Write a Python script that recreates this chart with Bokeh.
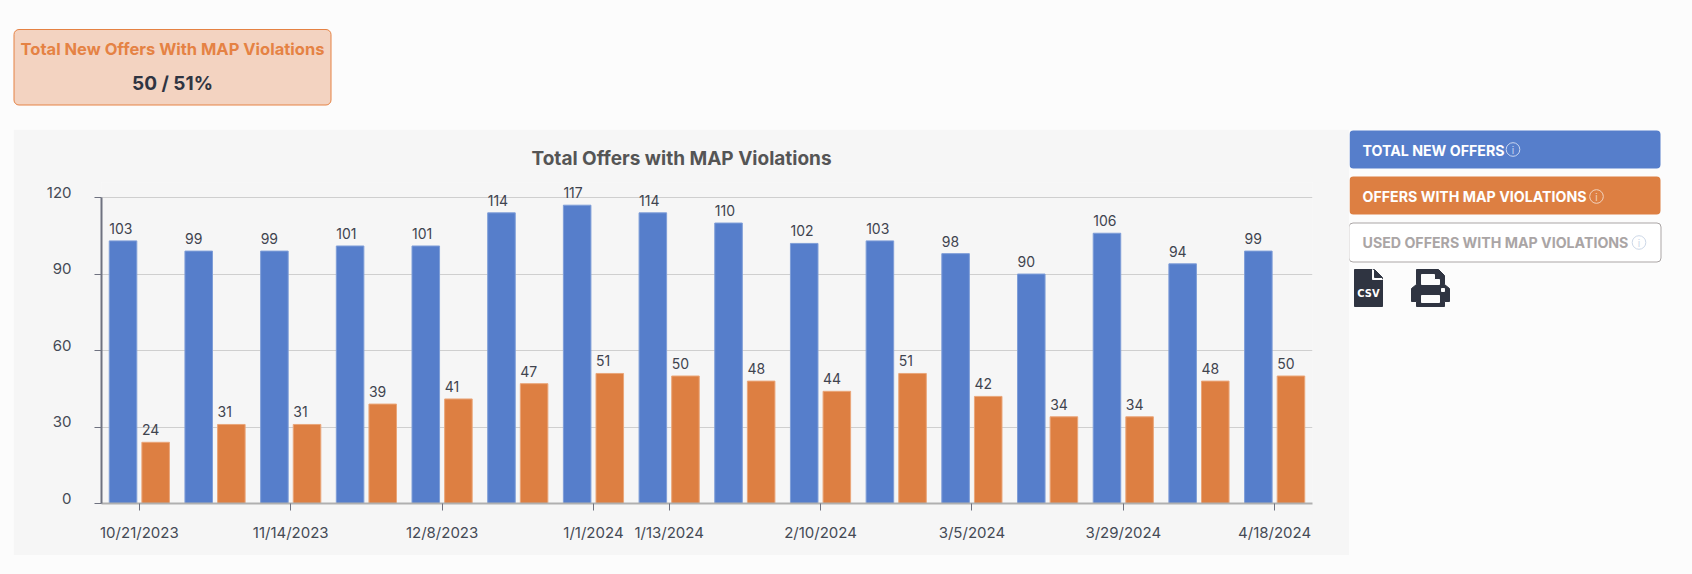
import numpy as np
from bokeh.embed import file_html
from bokeh.resources import INLINE
from bokeh.plotting import figure
from bokeh.layouts import column, row
from bokeh.models import ColumnDataSource, FixedTicker, Range1d, LinearAxis
from bokeh.core.properties import value

# ---- data ----
date_labels = ["10/21/2023", "", "11/14/2023", "", "12/8/2023", "", "1/1/2024", "1/13/2024",
               "", "2/10/2024", "", "3/5/2024", "", "3/29/2024", "", "4/18/2024"]
total_new_offers = [103, 99, 99, 101, 101, 114, 117, 114, 110, 102, 103, 98, 90, 106, 94, 99]
map_violations = [24, 31, 31, 39, 41, 47, 51, 50, 48, 44, 51, 42, 34, 34, 48, 50]
y_ticks = [0, 30, 60, 90, 120]
title_text = "Total Offers with MAP Violations"
kpi_title = "Total New Offers With MAP Violations"
kpi_value = "50 / 51%"
legend_items = ["TOTAL NEW OFFERS", "OFFERS WITH MAP VIOLATIONS", "USED OFFERS WITH MAP VIOLATIONS"]

# ---- style ----
PAGE = "#fcfcfc"
PANEL = "#f6f6f6"
BLUE = "#567ecb"
ORANGE = "#dd7f42"
DARK = "#2f3441"
FONT = "Inter"

n = len(total_new_offers)
centers = np.arange(n) + 0.5
BAR_W = 0.364
OFF = 0.2155
blue_x = centers - OFF
orange_x = centers + OFF
src = ColumnDataSource(dict(
    blue_x=blue_x, orange_x=orange_x,
    blue_lx=blue_x - BAR_W / 2, orange_lx=orange_x - BAR_W / 2,
    total=total_new_offers, viol=map_violations,
    total_s=[str(v) for v in total_new_offers], viol_s=[str(v) for v in map_violations],
))


def decor(left, top, w, h):
    """A figure whose data coordinates are the page's pixels, for cards and buttons."""
    f = figure(width=w, height=h, output_backend="svg", toolbar_location=None,
               x_range=Range1d(left, left + w), y_range=Range1d(top + h, top),
               min_border=0, min_border_left=0, min_border_right=0, min_border_top=0, min_border_bottom=0,
               x_axis_location=None, y_axis_location=None, frame_align=False)
    f.grid.visible = False
    f.outline_line_color = None
    f.background_fill_color = PAGE
    f.border_fill_color = PAGE
    return f


def text(f, x, y, s, size, color, bold=False, align="left", font=FONT):
    f.text(x=[x], y=[y], text=[s], text_font=value(font), text_font_size=f"{size}px",
           text_color=color, text_font_style="bold" if bold else "normal",
           text_align=align, text_baseline="middle")


def card(f, l, t, r, b, fill, line=None, radius=5):
    f.quad(left=[l], right=[r], top=[t], bottom=[b], fill_color=fill, line_color=line,
           border_radius=radius)


def info(f, cx, cy, color):
    f.circle(x=[cx], y=[cy], radius=6.8, fill_color=None, line_color=color, line_width=1)
    text(f, cx, cy + 0.5, "i", 10, color, align="center")


# ---- KPI strip ----
top = decor(8, 8, 1676, 121)
card(top, 13.5, 29, 330.5, 104.5, "#f3d3c1", "#e58244")
text(top, 172, 48, kpi_title, 16.5, "#e58244", bold=True, align="center")
text(top, 172, 83, kpi_value, 19, DARK, bold=True, align="center")

# ---- chart ----
p = figure(width=1336, height=426, output_backend="svg", toolbar_location=None,
           x_range=Range1d(0, n), y_range=Range1d(0, 125.9), frame_align=False,
           min_border_left=88, min_border_right=37, min_border_top=53, min_border_bottom=52)
p.margin = (0, 0, 0, 5)
p.background_fill_color = PANEL
p.border_fill_color = PANEL
p.outline_line_color = None
p.title.text = title_text
p.title.align = "left"
p.title.text_font = FONT
p.title.text_font_size = "19px"
p.title.text_font_style = "bold"
p.title.text_color = "#555555"
p.title.offset = 430
p.title.standoff = 26

p.yaxis.ticker = FixedTicker(ticks=y_ticks)
p.yaxis.bounds = (0, 120)
tick_pos = [float(c) for c, d in zip(centers, date_labels) if d]
p.xaxis.ticker = FixedTicker(ticks=tick_pos)
p.xaxis.major_label_overrides = {float(c): d for c, d in zip(centers, date_labels) if d}
p.xgrid.visible = False
p.ygrid.ticker = FixedTicker(ticks=y_ticks)
p.ygrid.grid_line_color = "#cfcfcf"
p.ygrid.grid_line_width = 1
for ax in (p.xaxis, p.yaxis):
    ax.major_tick_in = 0
    ax.major_tick_out = 7
    ax.minor_tick_line_color = None
    ax.major_tick_line_color = "#6f7280"
    ax.major_tick_line_width = 1
    ax.major_label_text_font = FONT
    ax.major_label_text_font_size = "15px"
    ax.major_label_text_color = "#454a55"
p.xaxis.axis_line_color = "#b0b0b0"
p.xaxis.axis_line_width = 2
p.yaxis.axis_line_color = "#6f7280"
p.yaxis.axis_line_width = 2
p.xaxis.major_label_standoff = 12
p.yaxis.major_label_overrides = {v: "" for v in y_ticks}
p.yaxis.major_label_standoff = 0

# tick labels sit a little above their ticks: a second axis, labels only, on a range nudged up
LABEL_NUDGE = 5.5 / 2.55
p.extra_y_ranges = {"ylabels": Range1d(-LABEL_NUDGE, 125.9 - LABEL_NUDGE)}
label_axis = LinearAxis(y_range_name="ylabels", ticker=FixedTicker(ticks=y_ticks),
                        axis_line_color=None, major_tick_line_color=None,
                        minor_tick_line_color=None, major_tick_in=0, major_tick_out=0,
                        major_label_standoff=23, major_label_text_font=FONT,
                        major_label_text_font_size="15px", major_label_text_color="#454a55")
p.add_layout(label_axis, "left")

p.vbar(x="blue_x", top="total", width=BAR_W, source=src, fill_color=BLUE,
       line_color="#7f9ed8", line_width=1)
p.vbar(x="orange_x", top="viol", width=BAR_W, source=src, fill_color=ORANGE,
       line_color="#eaa679", line_width=1)
p.text(x="blue_lx", y="total", text="total_s", source=src, text_font=value(FONT),
       text_font_size="14px", text_color="#3f444f", text_align="left",
       text_baseline="bottom", x_offset=0, y_offset=-7)
p.text(x="orange_lx", y="viol", text="viol_s", source=src, text_font=value(FONT),
       text_font_size="14px", text_color="#3f444f", text_align="left",
       text_baseline="bottom", x_offset=0, y_offset=-7)

# ---- side legend ----
side = decor(1350, 130, 334, 200)
card(side, 1350, 131, 1661, 169, BLUE, None, 4)
card(side, 1350, 177, 1661, 215, ORANGE, None, 4)
card(side, 1349.5, 223.5, 1661.5, 262.5, "#ffffff", "#aaa5a5", 4)
text(side, 1363, 150.5, legend_items[0], 14.2, "#ffffff", bold=True)
text(side, 1363, 196.5, legend_items[1], 14.2, "#ffffff", bold=True)
text(side, 1363, 243, legend_items[2], 14.2, "#aaa5a5", bold=True)
info(side, 1513.5, 150, "#c9d6f0")
info(side, 1597, 197, "#f2d3bf")
info(side, 1639.5, 243, "#cdd8e8")

# CSV icon
side.patch([1355, 1374, 1383, 1383, 1355], [270, 270, 279, 307, 307], color=DARK)
side.patch([1373, 1373, 1383], [270, 280, 280], color=PAGE)
side.patch([1375, 1383, 1375], [270, 278, 278], color=DARK)
text(side, 1369, 294, "CSV", 11, "#ffffff", bold=True, align="center", font="DejaVu Sans Condensed")

# printer icon
side.patch([1417, 1439, 1445, 1445, 1450, 1450, 1445, 1445, 1417, 1417, 1412, 1412, 1417],
           [270, 270, 276, 285, 289, 302, 302, 307, 307, 302, 302, 289, 285], color=DARK)
side.patch([1422, 1435, 1435, 1440, 1440, 1422], [275, 275, 280, 280, 285, 285], color=PAGE)
side.patch([1422, 1440, 1440, 1422], [296, 296, 303, 303], color=PAGE)
side.patch([1442, 1445, 1445, 1442], [289, 289, 292, 292], color=PAGE)

layout = column(top, row(p, side, spacing=0), spacing=0)
html = file_html(layout, INLINE)
html = html.replace("</head>", f"<style>html,body{{background:{PAGE};}}body{{margin:8px;overflow:hidden;}}</style></head>", 1)
open("out.html", "w").write(html)
